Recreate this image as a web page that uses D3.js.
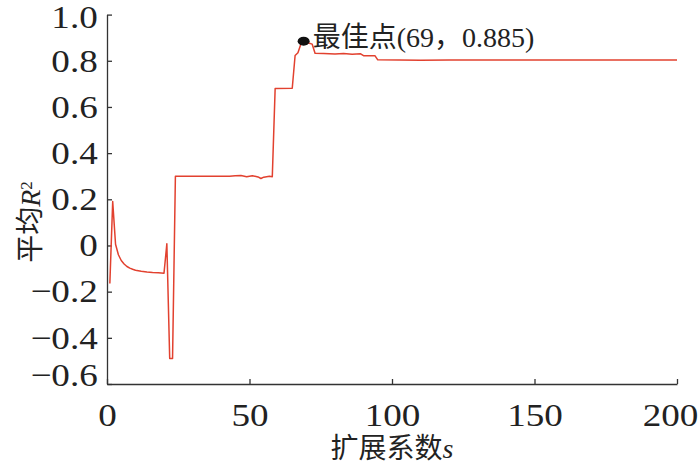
<!DOCTYPE html>
<html>
<head>
<meta charset="utf-8">
<script src="https://cdn.jsdelivr.net/npm/d3@7"></script>
<style>
  body { margin: 0; background: #fff; }
  svg text { font-family: "Liberation Serif", "Noto Sans CJK SC", serif; fill: #222; }
</style>
</head>
<body>
<svg id="chart" width="700" height="466"></svg>
<script>
// expansion coefficient s (at each change of the curve)
var sValues = [1, 2, 3, 4, 5, 6, 7, 8, 9, 10, 12, 14, 16, 18, 20, 21, 22, 23, 24,
               43, 45, 47, 49, 51, 53, 54, 55, 57, 58, 59, 65, 66, 67, 68, 69, 70, 71, 72, 73,
               76, 80, 83, 86, 89, 90, 94, 95, 110, 120, 200];
// mean R^2 at those s
var r2Values = [-0.165, 0.19, 0.005, -0.04, -0.065, -0.08, -0.091, -0.098, -0.103, -0.107,
                -0.112, -0.115, -0.117, -0.118, -0.12, 0.007, -0.49, -0.49, 0.3,
                0.3, 0.302, 0.303, 0.298, 0.302, 0.297, 0.29, 0.296, 0.3, 0.298, 0.68, 0.681,
                0.823, 0.835, 0.872, 0.885, 0.879, 0.876, 0.872, 0.833,
                0.831, 0.829, 0.832, 0.828, 0.83, 0.822, 0.822, 0.804, 0.802, 0.803, 0.803];
var xTicks = [0, 50, 100, 150, 200];
var yTicks = [-0.6, -0.4, -0.2, 0, 0.2, 0.4, 0.6, 0.8, 1.0];
var best = { s: 69, r2: 0.885, label: "最佳点(69，0.885)" };

var svg = d3.select('#chart');
var plotLeft = 107, plotRight = 677, plotTop = 14.6, plotBottom = 384;

var x = d3.scaleLinear().domain([0, 200]).range([plotLeft, plotRight]),
    y = d3.scaleLinear().domain([-0.6, 1.0]).range([plotBottom, plotTop]);

var yFormat = function(d) { return d === 0 ? '0' : d3.format('.1f')(d).replace('-', '\u2212'); };

// axes, ticks point inward
var xAxis = d3.axisBottom(x).tickValues(xTicks).tickSizeInner(-5).tickSizeOuter(0).tickPadding(19),
    yAxis = d3.axisLeft(y).tickValues(yTicks).tickSizeInner(-5).tickSizeOuter(0).tickPadding(8).tickFormat(yFormat);

var gx = svg.append('g').attr('transform', 'translate(0,' + plotBottom + ')').call(xAxis);
var gy = svg.append('g').attr('transform', 'translate(' + plotLeft + ',0)').call(yAxis);

[gx, gy].forEach(function(g) {
    g.select('.domain').attr('stroke', '#333').attr('stroke-width', 1.3);
    g.selectAll('.tick line').attr('stroke', '#333').attr('stroke-width', 1.3);
    // the numbers in the original are a little stretched sideways
    g.selectAll('.tick text').style('font-size', '32px').attr('fill', '#222')
        .attr('transform', 'scale(1.16,1)');
});
// last x label is kept inside the page
gx.selectAll('.tick text').attr('x', function(d) { return d === 200 ? -6 : 0; });
// end labels sit a little inside, like the original
gy.selectAll('.tick text').attr('dy', function(d) {
    if (d === -0.6) return '0.06em';
    if (d === 1.0) return '0.4em';
    return '0.32em';
});

// the curve
var line = d3.line()
    .x(function(d, i) { return x(sValues[i]); })
    .y(function(d) { return y(d); });

svg.append('path')
    .datum(r2Values)
    .attr('d', line)
    .attr('fill', 'none')
    .attr('stroke', '#e2412f')
    .attr('stroke-width', 1.5)
    .attr('stroke-linejoin', 'round');

// best point marker and annotation
svg.append('ellipse')
    .attr('cx', x(best.s)).attr('cy', y(best.r2))
    .attr('rx', 6).attr('ry', 4.5)
    .attr('fill', '#111');

svg.append('text')
    .attr('x', x(best.s) + 9).attr('y', y(best.r2) + 6)
    .style('font-size', '28px')
    .text(best.label);

// axis titles
var xTitle = svg.append('text')
    .attr('x', 392).attr('y', 458)
    .attr('text-anchor', 'middle')
    .style('font-size', '28px');
xTitle.append('tspan').text('扩展系数');
xTitle.append('tspan').style('font-style', 'italic').text('s');

var yTitle = svg.append('text')
    .attr('transform', 'translate(40,222) rotate(-90)')
    .attr('text-anchor', 'middle')
    .style('font-size', '28px');
yTitle.append('tspan').text('平均');
yTitle.append('tspan').style('font-style', 'italic').text('R');
yTitle.append('tspan').attr('dy', '-0.45em').style('font-size', '17px').text('2');
</script>
</body>
</html>
